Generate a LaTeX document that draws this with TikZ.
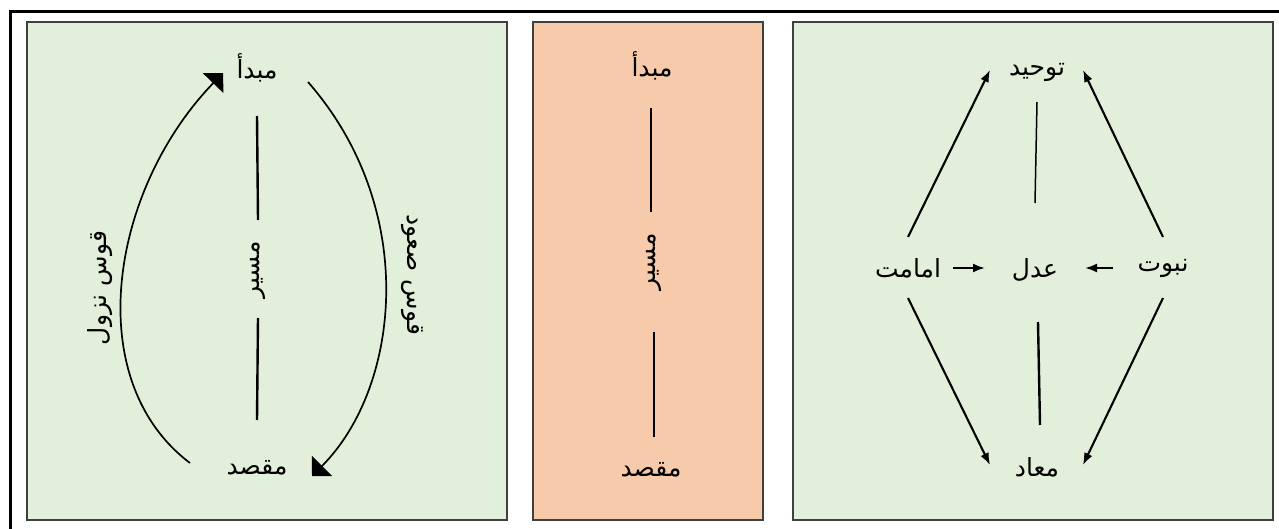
\documentclass[tikz,border=0pt]{standalone}
\usepackage{fontspec}
\newfontfamily\arabicfont[Script=Arabic]{DejaVu Sans}
\TeXXeTstate=1
\usetikzlibrary{arrows.meta}
\definecolor{pgreen}{HTML}{E2EFDA}
\definecolor{psalmon}{HTML}{F7CAAC}
\definecolor{pborder}{HTML}{404040}
\newcommand\rtltxt[1]{\beginR #1\endR}
\begin{document}
\begin{tikzpicture}[x=1pt,y=-1pt,
  lbl/.style={font=\arabicfont\fontsize{25}{28}\selectfont, inner sep=0pt},
  panelbox/.style={draw=pborder, line width=1.8pt},
  vline/.style={line width=2.4pt},
  thinline/.style={line width=1.5pt},
  arcline/.style={line width=1.7pt, -{Triangle[angle=90:20pt]}},
  arr/.style={line width=2.1pt, -{Latex[length=12pt,width=9pt]}}
  ]
\useasboundingbox (0,0) rectangle (1279,529);
\fill[white] (0,0) rectangle (1279,529);
% outer frame (top and left only visible)
\draw[line width=3pt] (10,529) -- (10,11.5) -- (1279,11.5);
% panels
\draw[panelbox, fill=pgreen] (27,22) rectangle (507,520);
\draw[panelbox, fill=psalmon] (533,22) rectangle (763,520);
\draw[panelbox, fill=pgreen] (793,22) rectangle (1273,520);

% ---- left panel
\node[lbl] (L1) at (257,68) {\rtltxt{مبدأ}};
\node[lbl] (L2) at (257,468) {\rtltxt{مقصد}};
\node[lbl, rotate=90] (L3) at (258,270) {\rtltxt{مسیر}};
\node[lbl, rotate=90] (L4) at (100,288) {\rtltxt{قوس نزول}};
\node[lbl, rotate=-90] (L5) at (412,275) {\rtltxt{قوس صعود}};
\draw[vline] ([shift={(0,48)}]L1.center) -- ([shift={(0,-50)}]L3.center);
\draw[vline] ([shift={(0,48)}]L3.center) -- ([shift={(0,-48)}]L2.center);
\draw[arcline] ([shift={(-67,-5)}]L2.center) .. controls (80,380) and (110,190) .. ([shift={(-34,5)}]L1.center);
\draw[arcline] ([shift={(51,14)}]L1.center) .. controls (420,210) and (400,388) .. ([shift={(55,8)}]L2.center);

% ---- middle panel
\node[lbl] (M1) at (652,66) {\rtltxt{مبدأ}};
\node[lbl] (M2) at (651,470) {\rtltxt{مقصد}};
\node[lbl, rotate=90] (M3) at (654,262) {\rtltxt{مسیر}};
\draw[vline] ([shift={(-1,42)}]M1.center) -- ([shift={(-3,-50)}]M3.center);
\draw[vline] ([shift={(0,70)}]M3.center) -- ([shift={(3,-33)}]M2.center);

% ---- right panel
\node[lbl] (T) at (1037,72) {\rtltxt{توحید}};
\node[lbl] (A) at (1035,270) {\rtltxt{عدل}};
\node[lbl] (Ma) at (1037,467) {\rtltxt{معاد}};
\node[lbl] (I) at (908,268) {\rtltxt{امامت}};
\node[lbl] (N) at (1163,268) {\rtltxt{نبوت}};
\draw[thinline] ([shift={(0,30)}]T.center) -- ([shift={(0,-67)}]A.center);
\draw[vline] ([shift={(3,52)}]A.center) -- ([shift={(3,-42)}]Ma.center);
\draw[arr] ([shift={(0,-31)}]I.center) -- ([shift={(-47,-2)}]T.center);
\draw[arr] ([shift={(0,-31)}]N.center) -- ([shift={(46,-2)}]T.center);
\draw[arr] ([shift={(0,30)}]I.center) -- ([shift={(-47,-2)}]Ma.center);
\draw[arr] ([shift={(0,30)}]N.center) -- ([shift={(46,-2)}]Ma.center);
\draw[arr] ([shift={(45,0)}]I.center) -- ([shift={(-50,-2)}]A.center);
\draw[arr] ([shift={(-50,0)}]N.center) -- ([shift={(50,-2)}]A.center);
\end{tikzpicture}
\end{document}
